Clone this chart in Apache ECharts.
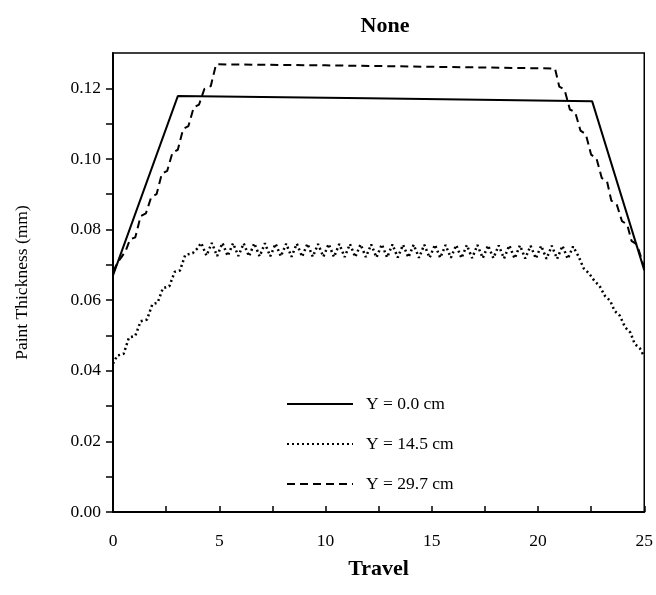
<!DOCTYPE html>
<html>
<head>
<meta charset="utf-8">
<script src="https://cdn.jsdelivr.net/npm/echarts@6/dist/echarts.min.js"></script>
<style>
  html, body { margin: 0; padding: 0; background: #fff; }
  #main { width: 656px; height: 595px; }
</style>
</head>
<body>
<div id="main"></div>
<script>
// series names
const seriesNames = ['Y = 0.0 cm', 'Y = 14.5 cm', 'Y = 29.7 cm'];

// Y = 0.0 cm  [travel, thickness]
const solidData = [
  [0, 0.067], [3.05, 0.1178], [12, 0.1172], [22.55, 0.1163], [25, 0.0685]
];

// Y = 14.5 cm
const dottedData = [
  [0, 0.042], [0.2, 0.0443], [0.5, 0.0448], [0.75, 0.0494], [1.05, 0.0499],
  [1.3, 0.0540], [1.6, 0.0545], [1.85, 0.0588], [2.1, 0.0593], [2.35, 0.0634],
  [2.65, 0.0639], [2.9, 0.0680], [3.15, 0.0684], [3.4, 0.0728], [3.75, 0.0733],
  [3.95, 0.0745],
  [4.15, 0.0762], [4.4, 0.0726], [4.65, 0.0762], [4.9, 0.0725], [5.15, 0.0762],
  [5.4, 0.0725], [5.65, 0.0761], [5.9, 0.0725], [6.15, 0.0761], [6.4, 0.0724],
  [6.65, 0.0761], [6.9, 0.0724], [7.15, 0.0761], [7.4, 0.0724], [7.65, 0.0760],
  [7.9, 0.0724], [8.15, 0.0760], [8.4, 0.0723], [8.65, 0.0760], [8.9, 0.0723],
  [9.15, 0.0760], [9.4, 0.0723], [9.65, 0.0759], [9.9, 0.0723], [10.15, 0.0759],
  [10.4, 0.0722], [10.65, 0.0759], [10.9, 0.0722], [11.15, 0.0759], [11.4, 0.0722],
  [11.65, 0.0758], [11.9, 0.0722], [12.15, 0.0758], [12.4, 0.0721], [12.65, 0.0758],
  [12.9, 0.0721], [13.15, 0.0758], [13.4, 0.0721], [13.65, 0.0757], [13.9, 0.0721],
  [14.15, 0.0757], [14.4, 0.0720], [14.65, 0.0757], [14.9, 0.0720], [15.15, 0.0757],
  [15.4, 0.0720], [15.65, 0.0756], [15.9, 0.0720], [16.15, 0.0756], [16.4, 0.0719],
  [16.65, 0.0756], [16.9, 0.0719], [17.15, 0.0756], [17.4, 0.0719], [17.65, 0.0755],
  [17.9, 0.0719], [18.15, 0.0755], [18.4, 0.0718], [18.65, 0.0755], [18.9, 0.0718],
  [19.15, 0.0755], [19.4, 0.0718], [19.65, 0.0754], [19.9, 0.0718], [20.15, 0.0754],
  [20.4, 0.0717], [20.65, 0.0754], [20.9, 0.0717], [21.15, 0.0754], [21.4, 0.0717],
  [21.65, 0.0752],
  [21.9, 0.0725], [22.15, 0.0690], [22.4, 0.0676], [22.65, 0.0655], [22.9, 0.0640],
  [23.15, 0.0612], [23.4, 0.0598], [23.6, 0.0570], [23.85, 0.0556], [24.1, 0.0523],
  [24.35, 0.0508], [24.55, 0.0476], [24.8, 0.0463], [25, 0.0440]
];

// Y = 29.7 cm
const dashedData = [
  [0, 0.068], [0.2, 0.0705], [0.4, 0.0722], [0.6, 0.0740], [0.8, 0.0772],
  [1.05, 0.0778], [1.3, 0.0838], [1.55, 0.0846], [1.8, 0.0892], [2.05, 0.0900],
  [2.3, 0.0958], [2.55, 0.0966], [2.8, 0.1018], [3.05, 0.1026], [3.3, 0.1085],
  [3.55, 0.1093], [3.8, 0.1146], [4.05, 0.1154], [4.3, 0.1198], [4.6, 0.1206],
  [4.85, 0.1268], [10, 0.1265], [15, 0.1261], [20.8, 0.1256],
  [21.0, 0.1205], [21.25, 0.1196], [21.5, 0.1140], [21.75, 0.1132], [22.0, 0.1080],
  [22.25, 0.1070], [22.5, 0.1012], [22.75, 0.1002], [23.0, 0.0946], [23.25, 0.0936],
  [23.45, 0.0882], [23.7, 0.0872], [23.95, 0.0824], [24.2, 0.0814], [24.4, 0.0768],
  [24.65, 0.0758], [24.85, 0.0722], [25, 0.0690]
];

// axis ticks
const yLabelValues = [0, 0.02, 0.04, 0.06, 0.08, 0.10, 0.12];
const yTickValues = [0, 0.01, 0.02, 0.03, 0.04, 0.05, 0.06, 0.07, 0.08, 0.09, 0.10, 0.11, 0.12];

const font = 'Liberation Serif';
const chart = echarts.init(document.getElementById('main'));

chart.setOption({
  animation: false,
  title: {
    text: 'None',
    left: 380,
    textAlign: 'center',
    top: 10,
    textStyle: { fontFamily: font, fontSize: 22, fontWeight: 'bold', color: '#000' }
  },
  legend: {
    orient: 'vertical',
    left: 286,
    top: 395,
    padding: 0,
    itemWidth: 66,
    itemHeight: 14,
    itemGap: 22,
    data: seriesNames,
    itemStyle: { opacity: 0 },
    textStyle: { fontFamily: font, fontSize: 17.5, color: '#000', padding: [0, 0, 0, 8] }
  },
  grid: {
    left: 113,
    right: 10,
    top: 53,
    bottom: 83,
    show: true,
    borderColor: '#000',
    borderWidth: 1.5,
    backgroundColor: 'transparent'
  },
  xAxis: {
    type: 'value',
    min: 0,
    max: 25,
    interval: 5,
    name: 'Travel',
    nameLocation: 'middle',
    nameGap: 46,
    nameTextStyle: { fontFamily: font, fontSize: 22, fontWeight: 'bold', color: '#000' },
    axisLine: { lineStyle: { color: '#000', width: 2 } },
    axisTick: { inside: true, length: 6, lineStyle: { color: '#000', width: 1.5 } },
    minorTick: { show: true, splitNumber: 2, length: 6, lineStyle: { color: '#000', width: 1.5 } },
    axisLabel: { fontFamily: font, fontSize: 17.5, color: '#000', margin: 20 },
    splitLine: { show: false }
  },
  yAxis: {
    type: 'value',
    min: 0,
    max: 0.13,
    name: 'Paint Thickness (mm)',
    nameLocation: 'middle',
    nameGap: 82,
    nameTextStyle: { fontFamily: font, fontSize: 17.5, color: '#000' },
    axisLine: { lineStyle: { color: '#000', width: 2 } },
    axisTick: { length: 7, customValues: yTickValues, lineStyle: { color: '#000', width: 1.5 } },
    axisLabel: {
      fontFamily: font, fontSize: 17.5, color: '#000', margin: 12,
      customValues: yLabelValues,
      formatter: (v) => v.toFixed(2)
    },
    splitLine: { show: false }
  },
  series: [
    {
      name: seriesNames[0], type: 'line', data: solidData, symbol: 'none',
      lineStyle: { color: '#000', width: 2, type: 'solid' }, itemStyle: { color: '#000' }
    },
    {
      name: seriesNames[1], type: 'line', data: dottedData, symbol: 'none',
      lineStyle: { color: '#000', width: 2.5, type: [2, 3] }, itemStyle: { color: '#000' }
    },
    {
      name: seriesNames[2], type: 'line', data: dashedData, symbol: 'none',
      lineStyle: { color: '#000', width: 2, type: [8, 5] }, itemStyle: { color: '#000' }
    }
  ]
});
</script>
</body>
</html>
